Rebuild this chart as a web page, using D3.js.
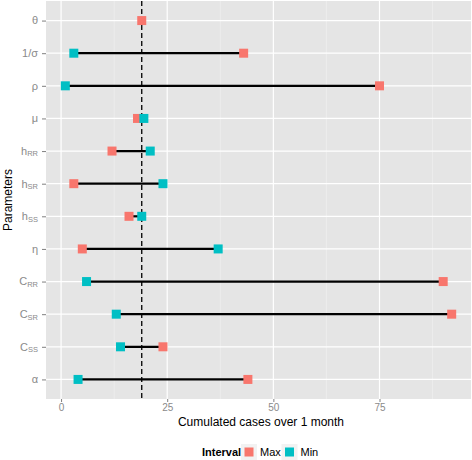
<!DOCTYPE html>
<html><head><meta charset="utf-8">
<script src="https://cdn.jsdelivr.net/npm/d3@7"></script>
<style>body{margin:0;background:#fff}svg{display:block}text{font-family:"Liberation Sans",Arial,sans-serif}</style>
</head><body>
<svg id="c" width="472" height="460"></svg>
<script>
// parameter labels: [main, subscript]
const params = [["θ",""],["1/σ",""],["ρ",""],["μ",""],["h","RR"],["h","SR"],["h","SS"],["η",""],["C","RR"],["C","SR"],["C","SS"],["α",""]];
const maxVals = [19, 43, 75, 18, 12, 3, 16, 5, 90, 92, 24, 44];
const minVals = [null, 3, 1, 19.5, 21, 24, 19, 37, 6, 13, 14, 4];
const baseline = 19;
const xTicks = [0, 25, 50, 75];
const xMinor = [12.5, 37.5, 62.5, 87.5];
const colMax = "#f8766d", colMin = "#00bfc4";

const svg = d3.select("#c");
const L = 46, R = 471, T = 1, B = 399;
const x = d3.scaleLinear().domain([-3.55, 96.55]).range([L, R]);
const ids = params.map((d,i)=>i);
const y = d3.scalePoint().domain(ids).range([T, B]).padding(0.6);

svg.append("rect").attr("x",L).attr("y",T).attr("width",R-L).attr("height",B-T).attr("fill","#e5e5e5");
// minor grid
svg.selectAll(".mg").data(xMinor).enter().append("line")
  .attr("x1",d=>x(d)).attr("x2",d=>x(d)).attr("y1",T).attr("y2",B)
  .attr("stroke","#f2f2f2").attr("stroke-width",0.6);
// major grid
svg.selectAll(".gx").data(xTicks).enter().append("line")
  .attr("x1",d=>x(d)).attr("x2",d=>x(d)).attr("y1",T).attr("y2",B)
  .attr("stroke","#fff").attr("stroke-width",1.2);
svg.selectAll(".gy").data(ids).enter().append("line")
  .attr("x1",L).attr("x2",R).attr("y1",d=>y(d)).attr("y2",d=>y(d))
  .attr("stroke","#fff").attr("stroke-width",1.2);

// x axis
const xa = svg.append("g").attr("transform",`translate(0,${B})`)
  .call(d3.axisBottom(x).tickValues(xTicks).tickSize(3).tickPadding(2).tickFormat(d3.format("d")));
xa.select(".domain").remove();
xa.selectAll("line").attr("stroke","#7f7f7f");
xa.selectAll("text").attr("fill","#8a8a8a").attr("font-size",10).style("font-family","Liberation Sans, Arial, sans-serif");

// y axis
const ya = svg.append("g").attr("transform",`translate(${L},0)`)
  .call(d3.axisLeft(y).tickSize(4).tickPadding(4).tickFormat(""));
ya.select(".domain").remove();
ya.selectAll("line").attr("stroke","#7f7f7f");
const lab = svg.append("g");
ids.forEach(i=>{
  const t = lab.append("text").attr("x",L-8).attr("y",y(i)).attr("dy","0.35em")
    .attr("text-anchor","end").attr("fill","#8a8a8a").attr("font-size",11);
  t.append("tspan").text(params[i][0]);
  if (params[i][1]) t.append("tspan").attr("font-size",7.5).attr("dy",1.5).text(params[i][1]);
});

// segments
svg.selectAll(".seg").data(ids.filter(i=>minVals[i]!==null)).enter().append("line")
  .attr("x1",i=>x(minVals[i])).attr("x2",i=>x(maxVals[i]))
  .attr("y1",i=>y(i)).attr("y2",i=>y(i))
  .attr("stroke","#000").attr("stroke-width",2.2);

// vertical dashed baseline
svg.append("line").attr("x1",x(baseline)).attr("x2",x(baseline)).attr("y1",T).attr("y2",B)
  .attr("stroke","#000").attr("stroke-width",1.3).attr("stroke-dasharray","5,3");

const s = 9;
svg.selectAll(".pmax").data(ids).enter().append("rect")
  .attr("x",i=>x(maxVals[i])-s/2).attr("y",i=>y(i)-s/2).attr("width",s).attr("height",s).attr("fill",colMax);
svg.selectAll(".pmin").data(ids.filter(i=>minVals[i]!==null)).enter().append("rect")
  .attr("x",i=>x(minVals[i])-s/2).attr("y",i=>y(i)-s/2).attr("width",s).attr("height",s).attr("fill",colMin);

// titles
svg.append("text").attr("x",261).attr("y",426).attr("text-anchor","middle")
  .attr("font-size",12).attr("fill","#000").text("Cumulated cases over 1 month");
svg.append("text").attr("transform",`translate(12,${(T+B)/2}) rotate(-90)`).attr("text-anchor","middle")
  .attr("font-size",12).attr("fill","#000").text("Parameters");

// legend
const lg = svg.append("g").attr("transform","translate(0,452)");
lg.append("text").attr("x",202).attr("y",0).attr("dy","0.35em").attr("font-size",11).attr("font-weight","bold").text("Interval");
const keys = [["Max",colMax,241],["Min",colMin,281.5]];
keys.forEach(k=>{
  lg.append("rect").attr("x",k[2]).attr("y",-8).attr("width",16).attr("height",16).attr("fill","#f2f2f2");
  lg.append("rect").attr("x",k[2]+3.5).attr("y",-4.5).attr("width",s).attr("height",s).attr("fill",k[1]);
  lg.append("text").attr("x",k[2]+19).attr("y",0).attr("dy","0.35em").attr("font-size",11).text(k[0]);
});
</script>
</body></html>
